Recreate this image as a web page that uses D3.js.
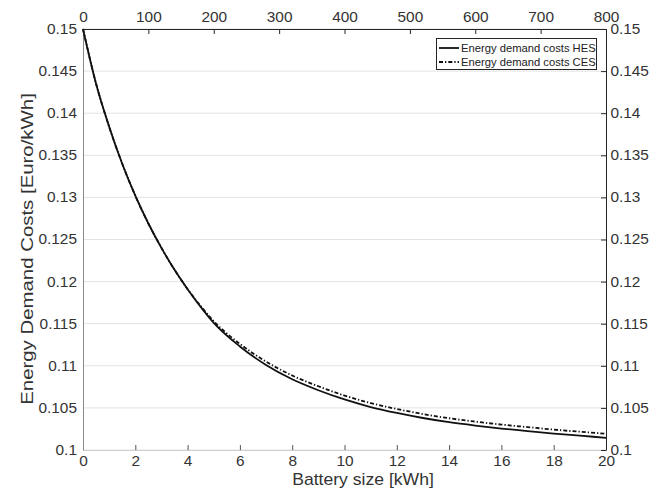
<!DOCTYPE html>
<html>
<head>
<meta charset="utf-8">
<script src="https://cdn.jsdelivr.net/npm/d3@7"></script>
<style>
  html, body { margin: 0; padding: 0; background: #fff; }
  svg { display: block; font-family: 'Liberation Sans', Arial, Helvetica, sans-serif; }
</style>
</head>
<body>
<svg id="chart" width="667" height="494"></svg>
<script>
// Battery size (kWh) and the resulting energy demand costs (Euro/kWh)
const batterySize = [0, 0.5, 1, 1.5, 2, 2.5, 3, 3.5, 4, 4.5, 5, 6, 7, 8, 9, 10, 11, 12, 13, 14, 15, 16, 17, 18, 19, 20];
const costHES = [0.1500, 0.1435, 0.1384, 0.1340, 0.1302, 0.1269, 0.1240, 0.1214, 0.1191, 0.1170, 0.1151, 0.1123, 0.1101, 0.1084, 0.1071, 0.1060, 0.1051, 0.1044, 0.1038, 0.1033, 0.1029, 0.10255, 0.10225, 0.10195, 0.1017, 0.10145];
const costCES = [0.1500, 0.1435, 0.1384, 0.1340, 0.1302, 0.1269, 0.1240, 0.1214, 0.1191, 0.1171, 0.1153, 0.1126, 0.1105, 0.10885, 0.10757, 0.10647, 0.10557, 0.10487, 0.10427, 0.10377, 0.10337, 0.10302, 0.10272, 0.10242, 0.10217, 0.10192];

// Tick values
const bottomTicks = [0, 2, 4, 6, 8, 10, 12, 14, 16, 18, 20];
const topTicks = [0, 100, 200, 300, 400, 500, 600, 700, 800];
const yTicks = [0.1, 0.105, 0.11, 0.115, 0.12, 0.125, 0.13, 0.135, 0.14, 0.145, 0.15];
const yTickLabels = ["0.1", "0.105", "0.11", "0.115", "0.12", "0.125", "0.13", "0.135", "0.14", "0.145", "0.15"];

const seriesNames = ["Energy demand costs HES", "Energy demand costs CES"];
const xLabel = "Battery size [kWh]";
const yLabel = "Energy Demand Costs [Euro/kWh]";

const svg = d3.select("#chart");
const plot = { left: 83, right: 606, top: 29, bottom: 450 };

const x = d3.scaleLinear().domain([0, 20]).range([plot.left, plot.right]);
const xTop = d3.scaleLinear().domain([0, 800]).range([plot.left, plot.right]);
const y = d3.scaleLinear().domain([0.1, 0.15]).range([plot.bottom, plot.top]);

const textColor = "#333";
const tickFont = 14;
const widen = 1.1;   // glyphs are drawn slightly wide
const fontFamily = "'Liberation Sans', Arial, sans-serif";

function styleTickText(g) {
  g.selectAll(".tick text")
    .attr("fill", textColor)
    .style("font-size", tickFont + "px")
    .style("font-family", fontFamily)
    .attr("transform", `scale(${widen},1)`);
}

// horizontal grid lines
svg.append("g")
  .selectAll("line")
  .data(yTicks)
  .join("line")
  .attr("x1", plot.left).attr("x2", plot.right)
  .attr("y1", d => y(d)).attr("y2", d => y(d))
  .attr("stroke", "#e3e3e3")
  .attr("stroke-width", 1);

// bottom axis (ticks point inward)
const gBottom = svg.append("g").attr("transform", `translate(0,${plot.bottom})`)
  .call(d3.axisBottom(x).tickValues(bottomTicks).tickSizeInner(-5).tickSizeOuter(0).tickPadding(6).tickFormat(d3.format("d")));
gBottom.select(".domain").attr("stroke", "#cfcfcf");
gBottom.selectAll(".tick line").attr("stroke", "#555");
styleTickText(gBottom);

// top axis (secondary scale)
const gTop = svg.append("g").attr("transform", `translate(0,${plot.top})`)
  .call(d3.axisTop(xTop).tickValues(topTicks).tickSizeInner(-5).tickSizeOuter(0).tickPadding(7).tickFormat(d3.format("d")));
gTop.select(".domain").attr("stroke", "#262626");
gTop.selectAll(".tick line").attr("stroke", "#262626");
styleTickText(gTop);

// left axis
const gLeft = svg.append("g").attr("transform", `translate(${plot.left},0)`)
  .call(d3.axisLeft(y).tickValues(yTicks).tickSizeInner(0).tickSizeOuter(0).tickPadding(5.5)
    .tickFormat((d, i) => yTickLabels[i]));
gLeft.select(".domain").attr("stroke", "#8a8a8a");
styleTickText(gLeft);

// right axis (ticks point inward)
const gRight = svg.append("g").attr("transform", `translate(${plot.right},0)`)
  .call(d3.axisRight(y).tickValues(yTicks).tickSizeInner(-5).tickSizeOuter(0).tickPadding(4)
    .tickFormat((d, i) => yTickLabels[i]));
gRight.select(".domain").attr("stroke", "#262626");
gRight.selectAll(".tick line").attr("stroke", "#262626");
styleTickText(gRight);

// axis titles
svg.append("text")
  .attr("transform", `translate(363,485) scale(${widen},1)`)
  .attr("text-anchor", "middle")
  .attr("fill", textColor)
  .style("font-size", "16px")
  .text(xLabel);

svg.append("text")
  .attr("transform", `translate(33,249) rotate(-90) scale(1.2,1)`)
  .attr("text-anchor", "middle")
  .attr("fill", textColor)
  .style("font-size", "17px")
  .text(yLabel);

// curves
const line = d3.line()
  .x((d, i) => x(batterySize[i]))
  .y(d => y(d))
  .curve(d3.curveMonotoneX);

const dashDot = "4,2,1.3,2";

svg.append("path")
  .datum(costCES)
  .attr("d", line)
  .attr("fill", "none")
  .attr("stroke", "#111")
  .attr("stroke-width", 1.8)
  .attr("stroke-dasharray", dashDot);

svg.append("path")
  .datum(costHES)
  .attr("d", line)
  .attr("fill", "none")
  .attr("stroke", "#111")
  .attr("stroke-width", 1.8);

// legend
const legend = svg.append("g");
legend.append("rect")
  .attr("x", 436.5).attr("y", 38.5)
  .attr("width", 160).attr("height", 31)
  .attr("fill", "#fff")
  .attr("stroke", "#262626")
  .attr("stroke-width", 1);

const dashes = [null, dashDot];
seriesNames.forEach((name, i) => {
  const cy = 48 + i * 14;
  legend.append("line")
    .attr("x1", 439).attr("x2", 459)
    .attr("y1", cy).attr("y2", cy)
    .attr("stroke", "#111")
    .attr("stroke-width", 1.8)
    .attr("stroke-dasharray", dashes[i]);
  legend.append("text")
    .attr("transform", `translate(461,${cy}) scale(${widen},1)`)
    .attr("dy", "0.35em")
    .attr("fill", "#222")
    .style("font-size", "10.2px")
    .text(name);
});
</script>
</body>
</html>
